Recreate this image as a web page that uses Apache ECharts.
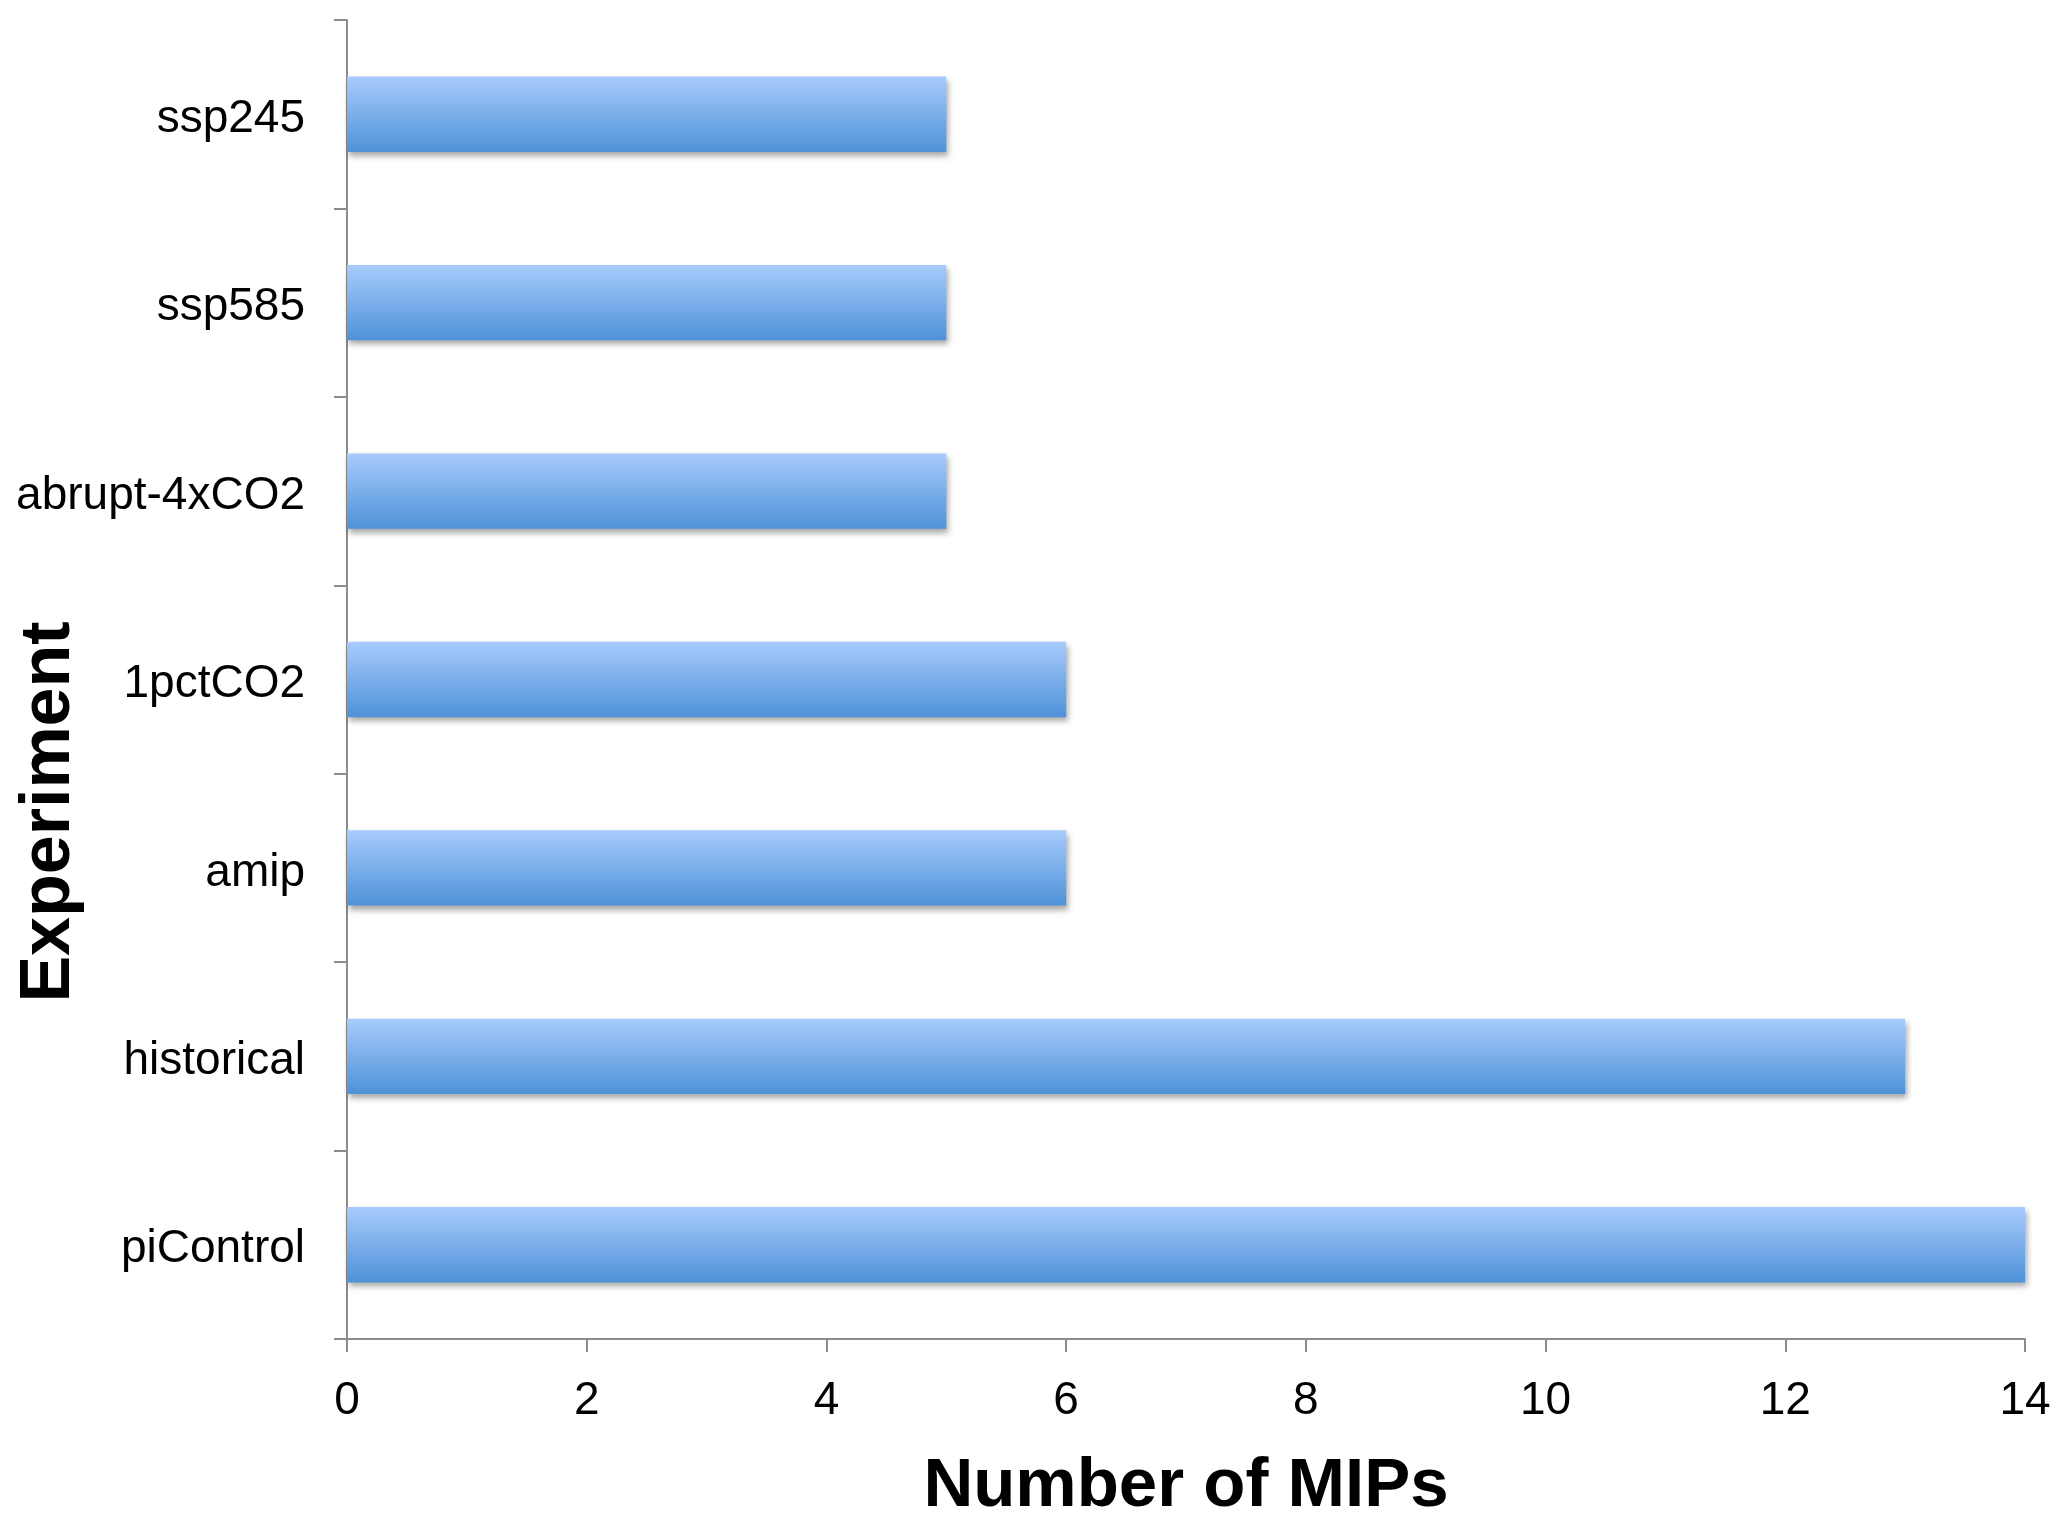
<!DOCTYPE html>
<html>
<head>
<meta charset="utf-8">
<script src="https://cdn.jsdelivr.net/npm/echarts@6/dist/echarts.min.js"></script>
<style>
html,body{margin:0;padding:0;background:#fff;}
#chart{width:2067px;height:1526px;}
</style>
</head>
<body>
<div id="chart"></div>
<script>
var categories = ['piControl', 'historical', 'amip', '1pctCO2', 'abrupt-4xCO2', 'ssp585', 'ssp245'];
var mipCounts = [14, 13, 6, 6, 5, 5, 5];
var xTicks = [0, 2, 4, 6, 8, 10, 12, 14];

var chart = echarts.init(document.getElementById('chart'));
var font = '"Liberation Sans", Arial, Helvetica, sans-serif';
var axisGray = '#8c8c8c';

chart.setOption({
  backgroundColor: '#ffffff',
  animation: false,
  grid: { left: 347, right: 42, top: 20, bottom: 182, containLabel: false },
  xAxis: {
    type: 'value',
    min: xTicks[0],
    max: xTicks[xTicks.length - 1],
    interval: 2,
    name: 'Number of MIPs',
    nameLocation: 'middle',
    nameGap: 113,
    nameTextStyle: { fontFamily: font, fontSize: 69, fontWeight: 'bold', color: '#000' },
    axisLine: { show: true, lineStyle: { color: axisGray, width: 2 } },
    axisTick: { show: true, length: 13, lineStyle: { color: axisGray, width: 2 } },
    axisLabel: { fontFamily: font, fontSize: 46, color: '#000', margin: 39 },
    splitLine: { show: false }
  },
  yAxis: {
    type: 'category',
    data: categories,
    axisLine: { show: true, lineStyle: { color: axisGray, width: 2 } },
    axisTick: { show: true, length: 13, alignWithLabel: false, lineStyle: { color: axisGray, width: 2 } },
    axisLabel: {
      fontFamily: font, fontSize: 46, color: '#000', margin: 42,
      formatter: function (v) { return '{c|' + v + '}'; },
      rich: { c: { fontFamily: font, fontSize: 46, color: '#000', padding: [10, 0, 0, 0] } }
    },
    splitLine: { show: false }
  },
  graphic: [{
    type: 'text',
    x: 50,
    y: 812,
    rotation: Math.PI / 2,
    style: {
      text: 'Experiment',
      font: 'bold 70px ' + font,
      fill: '#000',
      align: 'center',
      verticalAlign: 'middle'
    }
  }],
  series: [{
    type: 'bar',
    data: mipCounts,
    barCategoryGap: '60%',
    itemStyle: {
      color: new echarts.graphic.LinearGradient(0, 0, 0, 1, [
        { offset: 0, color: '#a8cbfc' },
        { offset: 1, color: '#4e92d8' }
      ]),
      shadowColor: 'rgba(0,0,0,0.35)',
      shadowBlur: 6,
      shadowOffsetX: 2,
      shadowOffsetY: 4
    }
  }]
});
</script>
</body>
</html>
